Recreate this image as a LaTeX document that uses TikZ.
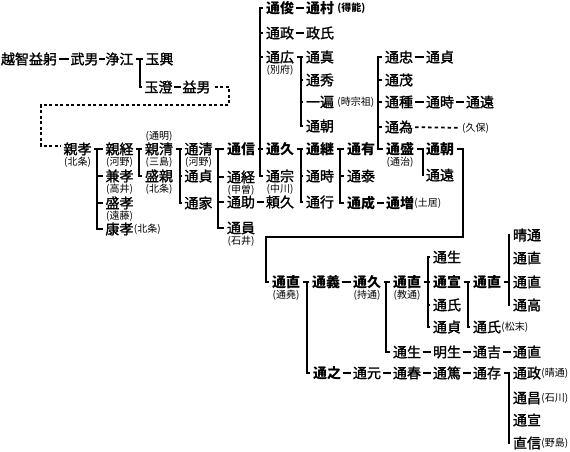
\documentclass[tikz,border=0pt]{standalone}
\usepackage{fontspec}
\setmainfont{Noto Sans CJK JP}
\newfontfamily\nmfont{Noto Sans CJK JP}[FakeBold=1.5]
\usetikzlibrary{positioning}
\newcommand\nmsize{\fontsize{14}{14}\selectfont}
\newcommand\ntsize{\fontsize{10}{10}\selectfont}
\tikzset{
  % --- persons ---------------------------------------------------------------
  nm/.style={inner sep=0pt,font=\nmfont\nmsize},
  hd/.style={inner sep=0pt,font=\bfseries\nmsize},   % main line of descent
  note/.style={inner sep=0pt,font=\ntsize},          % alias / house name
  % --- lines -----------------------------------------------------------------
  link/.style={line width=2pt,shorten <=1.5pt,shorten >=1.5pt},
  tick/.style={line width=2pt,shorten >=2.5pt},
  brk/.style={line width=2.4pt,line cap=rect},
  dots/.style={line width=2.2pt,dash pattern=on 3pt off 2.5pt,shorten <=4pt,shorten >=3pt},
  thin dots/.style={line width=1.8pt,dash pattern=on 3.5pt off 3pt,shorten <=2pt,shorten >=2pt},
  jump/.style={line width=2.4pt,shorten <=2.5pt,shorten >=2.5pt},
}

\begin{document}
\begin{tikzpicture}[x=1pt,y=-1pt]
  \useasboundingbox (0,0) rectangle (570,451);

  % Ochi line
  \node[nm] (ochi)     at (29,59)    {越智益躬};
  \node[nm] (takeo)    at (84.5,59)  {武男};
  \node[nm] (kiyoe)    at (119.5,59) {浄江};
  \node[nm] (tamaoki)  at (159.5,59) {玉興};
  \node[nm] (tamazumi) at (158.5,87) {玉澄};
  \node[nm] (masuo)    at (196.5,87) {益男};
  \draw[link] (ochi) -- (takeo);
  \draw[link,shorten <=0.5pt,shorten >=0.5pt] (takeo) -- (kiyoe);
  \draw[link] (tamazumi) -- (masuo);
  \coordinate (bk1) at (140,0);
  \draw[brk] (tamaoki -| bk1) -- (tamazumi -| bk1);
  \foreach \c in {kiyoe,tamaoki,tamazumi} \draw[tick] (\c -| bk1) -- (\c);

  % Chikataka and his sons
  \node[nm] (chikataka) at (77.5,149) {親孝};
  \node[note,below=1pt of chikataka] (chikataka-n) {(北条)};
  \node[nm] (chikatsune) at (119.5,149) {親経};
  \node[note,below=1pt of chikatsune] (chikatsune-n) {(河野)};
  \node[nm] (kanetaka) at (119.5,176) {兼孝};
  \node[note,below=1pt of kanetaka] (kanetaka-n) {(高井)};
  \node[nm] (moritaka) at (119.5,203) {盛孝};
  \node[note,below=1pt of moritaka] (moritaka-n) {(遠藤)};
  \node[nm] (yasutaka) at (119.5,229) {康孝};
  \node[note,right=0pt of yasutaka] (yasutaka-n) {(北条)};
  \coordinate (bk2) at (97,0);
  \draw[brk] (chikatsune -| bk2) -- (yasutaka -| bk2);
  \foreach \c in {chikataka,chikatsune,kanetaka,moritaka,yasutaka} \draw[tick] (\c -| bk2) -- (\c);

  % many generations skipped
  \coordinate (d1) at (229,105);
  \coordinate (d2) at (41,105);
  \coordinate (d3) at (41,146);
  \draw[dots] (masuo) -| (d1) -- (d2) -- (d3) -- (d3 -| chikataka.west);

  \node[nm] (chikakiyo) at (159,149) {親清};
  \node[note,above=1pt of chikakiyo] (chikakiyo-a) {(通明)};
  \node[note,below=1pt of chikakiyo] (chikakiyo-n) {(三島)};
  \node[nm] (morichika) at (159,176) {盛親};
  \node[note,below=1pt of morichika] (morichika-n) {(北条)};
  \coordinate (bk3) at (139,0);
  \draw[brk] (chikakiyo -| bk3) -- (morichika -| bk3);
  \foreach \c in {chikatsune,chikakiyo,morichika} \draw[tick] (\c -| bk3) -- (\c);

  \node[nm] (michikiyo) at (198.5,149) {通清};
  \node[note,below=1pt of michikiyo] (michikiyo-n) {(河野)};
  \node[nm] (sadaA) at (198.5,176) {通貞};
  \node[nm] (michiie) at (198.5,203) {通家};
  \coordinate (bk4) at (180,0);
  \draw[brk] (michikiyo -| bk4) -- (michiie -| bk4);
  \foreach \c in {chikakiyo,michikiyo,sadaA,michiie} \draw[tick] (\c -| bk4) -- (\c);

  \node[hd] (michinobu) at (241,149) {通信};
  \node[nm] (michitsune) at (241,177) {通経};
  \node[note,below=1pt of michitsune] (michitsune-n) {(甲曽)};
  \node[nm] (michisuke) at (241,202) {通助};
  \node[nm] (michikazu) at (241,228) {通員};
  \node[note,below=1pt of michikazu] (michikazu-n) {(石井)};
  \node[nm] (yorihisa) at (280,202) {頼久};
  \draw[link] (michisuke) -- (yorihisa);
  \coordinate (bk5) at (218,0);
  \draw[brk] (michinobu -| bk5) -- (michikazu -| bk5);
  \foreach \c in {michikiyo,michinobu,michitsune,michisuke,michikazu} \draw[tick] (\c -| bk5) -- (\c);

  % Michinobu's sons
  \node[hd] (michitoshi) at (280,8) {通俊};
  \node[hd] (michimura) at (320,8) {通村};
  \node[note,right=3pt of michimura,font=\ntsize\bfseries] (michimura-n) {(得能)};
  \node[nm] (michimasa) at (280,33) {通政};
  \node[nm] (masauji) at (320,33) {政氏};
  \node[nm] (michihiro) at (280,57) {通広};
  \node[note,below=1pt of michihiro] (michihiro-n) {(別府)};
  \node[hd] (hisaA) at (280,149) {通久};
  \node[nm] (michimune) at (280,176) {通宗};
  \node[note,below=1pt of michimune] (michimune-n) {(中川)};
  \draw[link] (michitoshi) -- (michimura);
  \draw[link] (michimasa) -- (masauji);
  \coordinate (bk6) at (260,0);
  \draw[brk] (michitoshi -| bk6) -- (michimune -| bk6);
  \foreach \c in {michinobu,michitoshi,michimasa,michihiro,hisaA,michimune} \draw[tick] (\c -| bk6) -- (\c);

  \node[nm] (michizane) at (320,57) {通真};
  \node[nm] (michihide) at (320,80) {通秀};
  \node[nm] (ippen) at (320,102) {一遍};
  \node[note,right=3pt of ippen] (ippen-n) {(時宗祖)};
  \node[nm] (tomoA) at (320,126) {通朝};
  \coordinate (bk7) at (301,0);
  \draw[brk] (michizane -| bk7) -- (tomoA -| bk7);
  \foreach \c in {michihiro,michizane,michihide,ippen,tomoA} \draw[tick] (\c -| bk7) -- (\c);

  \node[hd] (tsugu) at (320,149) {通継};
  \node[nm] (tokiA) at (320,176) {通時};
  \node[nm] (michiyuki) at (320,202) {通行};
  \draw[brk] (tsugu -| bk7) -- (michiyuki -| bk7);
  \foreach \c in {hisaA,tsugu,tokiA,michiyuki} \draw[tick] (\c -| bk7) -- (\c);

  \node[hd] (ari) at (361,149) {通有};
  \node[nm] (yasu) at (361,176) {通泰};
  \node[hd] (nari) at (361,203) {通成};
  \node[hd] (masu) at (400,203) {通増};
  \node[note,right=0pt of masu] (masu-n) {(土居)};
  \draw[link] (nari) -- (masu);
  \coordinate (bk8) at (340,0);
  \draw[brk] (ari -| bk8) -- (nari -| bk8);
  \foreach \c in {tsugu,ari,yasu,nari} \draw[tick] (\c -| bk8) -- (\c);

  % Michiari's sons
  \node[nm] (tada) at (399,57) {通忠};
  \node[nm] (sadaC) at (440,57) {通貞};
  \node[nm] (shige) at (399,80) {通茂};
  \node[nm] (tane) at (399,102) {通種};
  \node[nm] (tokiB) at (440,102) {通時};
  \node[nm] (toA) at (480,102) {通遠};
  \node[nm] (tame) at (399,127) {通為};
  \node[note,anchor=west] (kubo) at (462,128) {(久保)};
  \node[hd] (mori) at (400,149) {通盛};
  \node[note,below=1pt of mori] (mori-n) {(通治)};
  \draw[link] (tada) -- (sadaC);
  \draw[link] (tane) -- (tokiB);
  \draw[link] (tokiB) -- (toA);
  \draw[thin dots] (tame) -- (kubo);
  \coordinate (bk9) at (378,0);
  \draw[brk] (tada -| bk9) -- (mori -| bk9);
  \foreach \c in {ari,tada,shige,tane,tame,mori} \draw[tick] (\c -| bk9) -- (\c);

  \node[hd] (tomoB) at (440,149) {通朝};
  \node[nm] (toB) at (440,175) {通遠};
  \coordinate (bk10) at (423,0);
  \draw[brk] (tomoB -| bk10) -- (toB -| bk10);
  \foreach \c in {mori,tomoB,toB} \draw[tick] (\c -| bk10) -- (\c);

  % carried on below
  \node[hd] (naoA) at (286,282) {通直};
  \node[note,below=1pt of naoA] (naoA-n) {(通堯)};
  \coordinate (r1) at (463,237);
  \coordinate (r2) at (266,237);
  \draw[jump] (tomoB) -| (r1) -- (r2) |- (naoA);

  \node[hd] (yoshi) at (326,282) {通義};
  \node[hd] (hisaB) at (367,282) {通久};
  \node[note,below=1pt of hisaB] (hisaB-n) {(持通)};
  \draw[link] (yoshi) -- (hisaB);
  \node[hd] (yuki2) at (327,373) {通之};
  \coordinate (bk11) at (307,0);
  \draw[brk] (yoshi -| bk11) -- (yuki2 -| bk11);
  \foreach \c in {naoA,yoshi,yuki2} \draw[tick] (\c -| bk11) -- (\c);

  \node[hd] (naoB) at (407,282) {通直};
  \node[note,below=1pt of naoB] (naoB-n) {(教通)};
  \node[nm] (ikuB) at (407,352) {通生};
  \coordinate (bk12) at (386,0);
  \draw[brk] (naoB -| bk12) -- (ikuB -| bk12);
  \foreach \c in {hisaB,naoB,ikuB} \draw[tick] (\c -| bk12) -- (\c);

  \node[nm] (ikuA) at (447,257) {通生};
  \node[hd] (nobuA) at (447,282) {通宣};
  \node[nm] (ujiA) at (447,305) {通氏};
  \node[nm] (sadaD) at (447,327) {通貞};
  \coordinate (bk13) at (428,0);
  \draw[brk] (ikuA -| bk13) -- (sadaD -| bk13);
  \foreach \c in {naoB,ikuA,nobuA,ujiA,sadaD} \draw[tick] (\c -| bk13) -- (\c);

  \node[hd] (naoC) at (487,282) {通直};
  \node[nm] (ujiB) at (487,327) {通氏};
  \node[note,right=0pt of ujiB] (ujiB-n) {(松末)};
  \coordinate (bk14) at (468,0);
  \draw[brk] (naoC -| bk14) -- (ujiB -| bk14);
  \foreach \c in {nobuA,naoC,ujiB} \draw[tick] (\c -| bk14) -- (\c);

  \node[nm] (haru) at (527,235) {晴通};
  \node[nm] (naoD) at (527,258) {通直};
  \node[nm] (naoE) at (527,282) {通直};
  \node[nm] (taka) at (527,305) {通高};
  \coordinate (bk15) at (509,0);
  \draw[brk] (haru -| bk15) -- (taka -| bk15);
  \foreach \c in {naoC,haru,naoD,naoE,taka} \draw[tick] (\c -| bk15) -- (\c);

  % two side lines
  \node[nm] (akio) at (447,352) {明生};
  \node[nm] (yoshiB) at (487,352) {通吉};
  \node[nm] (naoF) at (527,352) {通直};
  \draw[link] (ikuB) -- (akio);
  \draw[link] (akio) -- (yoshiB);
  \draw[link] (yoshiB) -- (naoF);

  \node[nm] (moto) at (367,373) {通元};
  \node[nm] (haruB) at (407,373) {通春};
  \node[nm] (atsu) at (447,373) {通篤};
  \node[nm] (aritsu) at (487,373) {通存};
  \draw[link] (yuki2) -- (moto);
  \draw[link] (moto) -- (haruB);
  \draw[link] (haruB) -- (atsu);
  \draw[link] (atsu) -- (aritsu);

  \node[nm] (masaB) at (527,373) {通政};
  \node[note,right=0pt of masaB] (masaB-n) {(晴通)};
  \node[nm] (masaC) at (527,398) {通昌};
  \node[note,right=0pt of masaC] (masaC-n) {(石川)};
  \node[nm] (nobuB) at (527,420) {通宣};
  \node[nm] (naonobu) at (527,443) {直信};
  \node[note,right=0pt of naonobu] (naonobu-n) {(野島)};
  \draw[brk] (masaB -| bk15) -- (naonobu -| bk15);
  \foreach \c in {aritsu,masaB,masaC,nobuB,naonobu} \draw[tick] (\c -| bk15) -- (\c);
\end{tikzpicture}
\end{document}
